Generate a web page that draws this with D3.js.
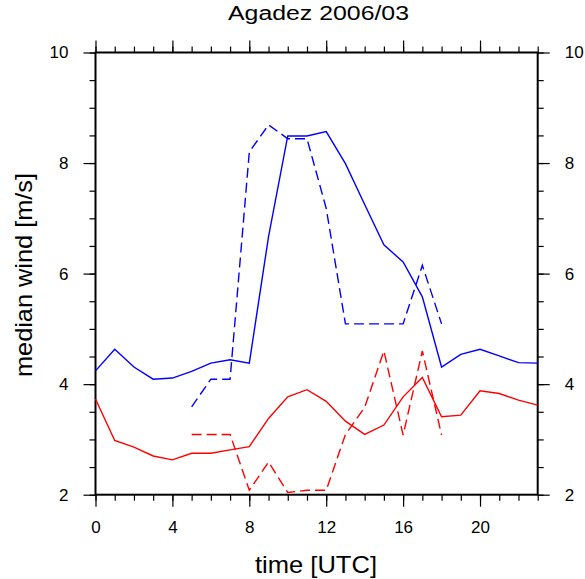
<!DOCTYPE html>
<html>
<head>
<meta charset="utf-8">
<script src="https://cdn.jsdelivr.net/npm/d3@7"></script>
<style>
  body { margin: 0; background: #fff; }
  svg text { font-family: "Liberation Sans", Arial, sans-serif; fill: #000; }
</style>
</head>
<body>
<div class="canvas"></div>
<script>
// hours of the day
var hours = d3.range(0, 24)
var hoursShort = d3.range(5, 19)

// median wind [m/s]
var blueSolid = [4.24, 4.63, 4.31, 4.09, 4.11, 4.23, 4.38, 4.44, 4.38, 6.67, 8.49, 8.49,
  8.57, 7.99, 7.25, 6.52, 6.21, 5.58, 4.31, 4.54, 4.63, 4.51, 4.39, 4.38]
var blueDashed = [3.59, 4.09, 4.09, 8.2, 8.69, 8.44, 8.44, 7.18, 5.09, 5.09, 5.09, 5.09, 6.15, 5.09]
var redSolid = [3.73, 2.98, 2.86, 2.70, 2.63, 2.75, 2.75, 2.81, 2.87, 3.38, 3.77, 3.90,
  3.69, 3.33, 3.09, 3.26, 3.77, 4.12, 3.41, 3.44, 3.88, 3.83, 3.71, 3.62]
var redDashed = [3.09, 3.09, 3.09, 2.08, 2.59, 2.04, 2.08, 2.08, 3.09, 3.58, 4.60, 3.08, 4.60, 3.08]

var xTicks = [0, 4, 8, 12, 16, 20]
var yTicks = [2, 4, 6, 8, 10]

const dims = { width: 585, height: 579 }
const box = { left: 95.5, right: 537.7, top: 52.5, bottom: 494.7 }

var svg = d3.select('.canvas').append('svg')
  .attr('width', dims.width)
  .attr('height', dims.height)

var x = d3.scaleLinear().domain([0, 23]).range([box.left, box.right])
var y = d3.scaleLinear().domain([2, 10]).range([box.bottom, box.top])

var plotH = box.bottom - box.top
var plotW = box.right - box.left

// axes, ticks pointing outward, majors long and minors short
var minorX = d3.range(0, 24)
var minorY = d3.range(2, 10.01, 0.5)

function styleAxis(g) {
  g.select('.domain').remove()
  g.selectAll('.tick line').attr('stroke', '#000').attr('stroke-width', 1.2)
}

svg.append('g').attr('transform', `translate(0,${box.bottom})`)
  .call(d3.axisBottom(x).tickValues(minorX).tickSize(6).tickFormat(''))
  .call(styleAxis)
svg.append('g').attr('transform', `translate(0,${box.bottom})`)
  .call(d3.axisBottom(x).tickValues(xTicks).tickSize(12).tickPadding(14).tickFormat(d3.format('d')))
  .call(styleAxis)
  .selectAll('text').attr('font-size', 17).attr('fill', '#000')

svg.append('g').attr('transform', `translate(0,${box.top})`)
  .call(d3.axisTop(x).tickValues(minorX).tickSize(6).tickFormat(''))
  .call(styleAxis)
svg.append('g').attr('transform', `translate(0,${box.top})`)
  .call(d3.axisTop(x).tickValues(xTicks).tickSize(12).tickFormat(''))
  .call(styleAxis)

svg.append('g').attr('transform', `translate(${box.left},0)`)
  .call(d3.axisLeft(y).tickValues(minorY).tickSize(6).tickFormat(''))
  .call(styleAxis)
svg.append('g').attr('transform', `translate(${box.left},0)`)
  .call(d3.axisLeft(y).tickValues(yTicks).tickSize(12).tickPadding(15).tickFormat(d3.format('d')))
  .call(styleAxis)
  .selectAll('text').attr('font-size', 17).attr('fill', '#000')

svg.append('g').attr('transform', `translate(${box.right},0)`)
  .call(d3.axisRight(y).tickValues(minorY).tickSize(6).tickFormat(''))
  .call(styleAxis)
svg.append('g').attr('transform', `translate(${box.right},0)`)
  .call(d3.axisRight(y).tickValues(yTicks).tickSize(12).tickPadding(15).tickFormat(d3.format('d')))
  .call(styleAxis)
  .selectAll('text').attr('font-size', 17).attr('fill', '#000')

// frame
svg.append('rect')
  .attr('x', box.left).attr('y', box.top)
  .attr('width', plotW).attr('height', plotH)
  .attr('fill', 'none').attr('stroke', '#000').attr('stroke-width', 2)

// lines
var line = d3.line().x(d => x(d[0])).y(d => y(d[1]))
var series = [
  { hrs: hours, vals: blueSolid, color: '#0000ff', dash: null },
  { hrs: hoursShort, vals: blueDashed, color: '#0000ff', dash: '10,5' },
  { hrs: hours, vals: redSolid, color: '#ff0000', dash: null },
  { hrs: hoursShort, vals: redDashed, color: '#ff0000', dash: '10,5' }
]
svg.append('g').selectAll('path').data(series).enter().append('path')
  .attr('d', s => line(s.hrs.map((h, i) => [h, s.vals[i]])))
  .attr('fill', 'none')
  .attr('stroke', s => s.color)
  .attr('stroke-width', 1.4)
  .attr('stroke-dasharray', s => s.dash)

// titles (the original is a bit stretched sideways)
svg.append('text')
  .attr('x', 318.5).attr('y', 20)
  .attr('text-anchor', 'middle').attr('font-size', 20)
  .attr('textLength', 181).attr('lengthAdjust', 'spacingAndGlyphs')
  .text('Agadez 2006/03')

svg.append('text')
  .attr('x', 316).attr('y', 573)
  .attr('text-anchor', 'middle').attr('font-size', 24)
  .attr('textLength', 122).attr('lengthAdjust', 'spacingAndGlyphs')
  .text('time [UTC]')

svg.append('text')
  .attr('transform', `translate(32,275) rotate(-90)`)
  .attr('text-anchor', 'middle').attr('font-size', 24)
  .attr('textLength', 204).attr('lengthAdjust', 'spacingAndGlyphs')
  .text('median wind [m/s]')
</script>
</body>
</html>
